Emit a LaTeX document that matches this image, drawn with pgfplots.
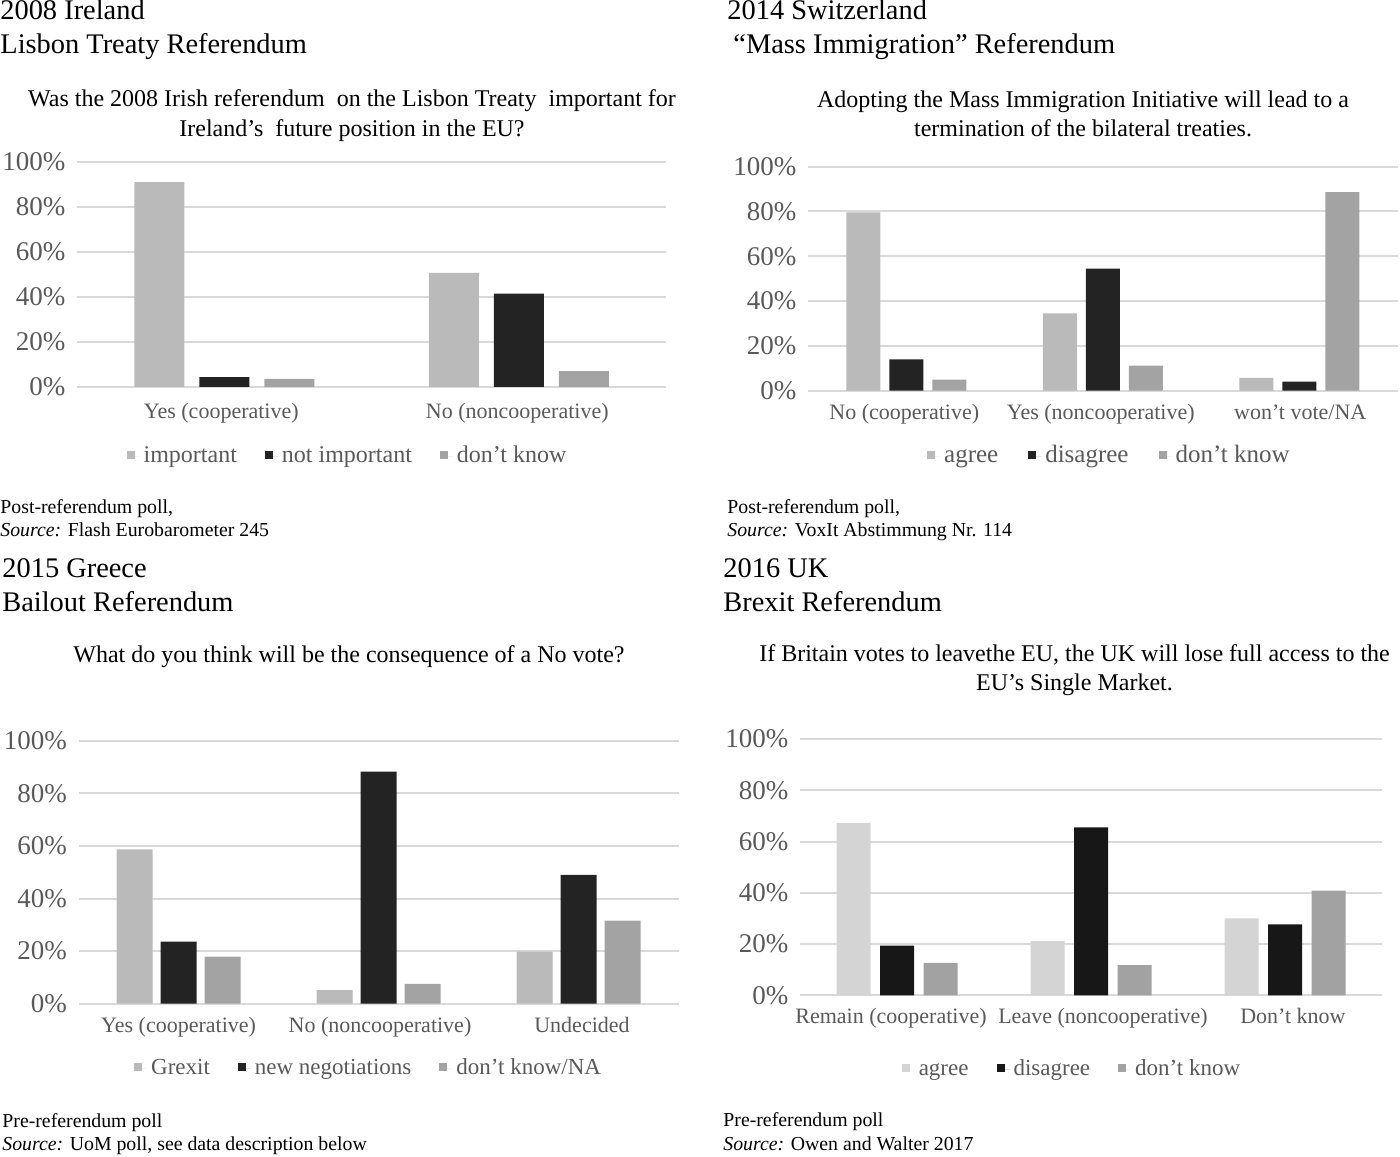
\documentclass[border=0pt]{standalone}
\usepackage{fontspec}
\setmainfont{Liberation Serif}
\usepackage{pgfplots}
\pgfplotsset{compat=1.18}

\definecolor{gridc}{HTML}{D9D9D9}
\definecolor{tickc}{HTML}{595959}
\definecolor{lgt}{HTML}{BABABA}
\definecolor{drk}{HTML}{232323}
\definecolor{mid}{HTML}{A3A3A3}
\definecolor{lgtB}{HTML}{D4D4D4}
\definecolor{drkB}{HTML}{171717}
\definecolor{midB}{HTML}{A2A2A2}

\pgfplotsset{
  sq/.style={legend image code/.code={%
    \fill[##1,draw=none] (0pt,-1.2pt) rectangle (4pt,2.8pt);
    \path (0pt,0pt) -- (6.5pt,0pt);}},
  panel/.style={
    scale only axis, ybar, ymin=0, ymax=100, ytick={0,20,40,60,80,100},
    yticklabel={\pgfmathprintnumber[assume math mode=true]{\tick}\%},
    ymajorgrids, grid style={draw=gridc, line width=1pt},
    axis line style={draw=none}, major tick length=0pt,
    tick label style={text=tickc},
    yticklabel style={font=\fontsize{13.5}{15}\selectfont, xshift=-2.3pt},
    xticklabel style={font=\fontsize{11}{13}\selectfont, anchor=base},
    legend columns=-1,
    legend style={draw=none, fill=none, font=\fontsize{12}{14}\selectfont,
      text=tickc, anchor=center,
      nodes={text height=8.6pt, text depth=2.6pt},
      /tikz/every even column/.append style={column sep=12pt}},
  },
}

\newcommand{\ttl}{\fontsize{14.2}{16}\selectfont}
\newcommand{\qst}{\fontsize{12}{14}\selectfont}
\newcommand{\src}{\fontsize{9.9}{12}\selectfont}

\begin{document}
\begin{tikzpicture}
\useasboundingbox (0,0) rectangle (700pt,578pt);

% ---------- 2008 Ireland ----------
\node[anchor=base west, inner sep=0, font=\ttl] at (0pt,568pt) {2008 Ireland};
\node[anchor=base west, inner sep=0, font=\ttl] at (0pt,551.35pt) {Lisbon Treaty Referendum};
\node[anchor=base, inner sep=0, font=\qst] at (176pt,524.65pt)
  {Was the 2008 Irish referendum\ \ on the Lisbon Treaty\ \ important for};
\node[anchor=base, inner sep=0, font=\qst] at (176pt,509.65pt)
  {Ireland’s\ \ future position in the EU?};

\begin{axis}[panel, at={(38.5pt,384.5pt)}, anchor=south west,
    width=294.5pt, height=112.5pt, bar width=25pt, ybar=7.5pt,
    xmin=-0.5, xmax=1.5, xtick={-0.01,0.995},
    xticklabels={Yes (cooperative), No (noncooperative)},
    xticklabel style={yshift=-16pt},
    legend style={at={(0.461,-0.311)}}]
  \addplot[fill=lgt, draw=none, sq] coordinates {(0,91.1) (1,50.7)};
  \addlegendentry{important}
  \addplot[fill=drk, draw=none, sq] coordinates {(0,4.4) (1,41.5)};
  \addlegendentry{not important}
  \addplot[fill=mid, draw=none, sq] coordinates {(0,3.6) (1,7.1)};
  \addlegendentry{don’t know}
\end{axis}

\node[anchor=base west, inner sep=0, font=\src] at (0pt,321.35pt) {Post-referendum poll,};
\node[anchor=base west, inner sep=0, font=\src] at (0pt,309.65pt) {\textit{Source:} Flash Eurobarometer 245};

% ---------- 2014 Switzerland ----------
\node[anchor=base west, inner sep=0, font=\ttl] at (363.5pt,568pt) {2014 Switzerland};
\node[anchor=base west, inner sep=0, font=\ttl] at (366.5pt,551.35pt) {“Mass Immigration” Referendum};
\node[anchor=base, inner sep=0, font=\qst] at (541.5pt,524pt)
  {Adopting the Mass Immigration Initiative will lead to a};
\node[anchor=base, inner sep=0, font=\qst] at (541.5pt,509.5pt)
  {termination of the bilateral treaties.};

\begin{axis}[panel, at={(404pt,382.65pt)}, anchor=south west,
    width=294.75pt, height=112pt, bar width=17pt, ybar=4.5pt,
    xmin=-0.5, xmax=2.5, xtick={-0.01,0.99,2.005},
    xticklabels={No (cooperative), Yes (noncooperative), won’t vote/NA},
    xticklabel style={yshift=-14.2pt},
    legend style={at={(0.513,-0.296)}, font=\fontsize{12.5}{14}\selectfont,
      /tikz/every even column/.append style={column sep=13pt}}]
  \addplot[fill=lgt, draw=none, sq] coordinates {(0,79.6) (1,34.5) (2,5.7)};
  \addlegendentry{agree}
  \addplot[fill=drk, draw=none, sq] coordinates {(0,14.0) (1,54.5) (2,4.0)};
  \addlegendentry{disagree}
  \addplot[fill=mid, draw=none, sq] coordinates {(0,4.9) (1,11.2) (2,88.6)};
  \addlegendentry{don’t know}
\end{axis}

\node[anchor=base west, inner sep=0, font=\src] at (363.5pt,321.35pt) {Post-referendum poll,};
\node[anchor=base west, inner sep=0, font=\src] at (363.5pt,309.65pt) {\textit{Source:} VoxIt Abstimmung Nr. 114};

% ---------- 2015 Greece ----------
\node[anchor=base west, inner sep=0, font=\ttl] at (1pt,289pt) {2015 Greece};
\node[anchor=base west, inner sep=0, font=\ttl] at (1pt,272.15pt) {Bailout Referendum};
\node[anchor=base, inner sep=0, font=\qst] at (174.5pt,246.5pt)
  {What do you think will be the consequence of a No vote?};

\begin{axis}[panel, at={(39.3pt,76.15pt)}, anchor=south west,
    width=300pt, height=131.5pt, bar width=18pt, ybar=4pt,
    xmin=-0.5, xmax=2.5, xtick={0,1.007,2.017},
    xticklabels={Yes (cooperative), No (noncooperative), Undecided},
    xticklabel style={yshift=-14.2pt},
    legend style={at={(0.485,-0.248)}, font=\fontsize{11.5}{13}\selectfont}]
  \addplot[fill=lgt, draw=none, sq] coordinates {(0,58.7) (1,5.2) (2,19.8)};
  \addlegendentry{Grexit}
  \addplot[fill=drk, draw=none, sq] coordinates {(0,23.6) (1,88.2) (2,49.0)};
  \addlegendentry{new negotiations}
  \addplot[fill=mid, draw=none, sq] coordinates {(0,17.9) (1,7.5) (2,31.6)};
  \addlegendentry{don’t know/NA}
\end{axis}

\node[anchor=base west, inner sep=0, font=\src] at (1pt,14.5pt) {Pre-referendum poll};
\node[anchor=base west, inner sep=0, font=\src] at (1pt,3pt) {\textit{Source:} UoM poll, see data description below};

% ---------- 2016 UK ----------
\node[anchor=base west, inner sep=0, font=\ttl] at (361.5pt,289pt) {2016 UK};
\node[anchor=base west, inner sep=0, font=\ttl] at (361.5pt,272.15pt) {Brexit Referendum};
\node[anchor=base, inner sep=0, font=\qst] at (537.25pt,247pt)
  {If Britain votes to leavethe EU, the UK will lose full access to the};
\node[anchor=base, inner sep=0, font=\qst] at (537.25pt,232.5pt)
  {EU’s Single Market.};

\begin{axis}[panel, at={(400pt,80.35pt)}, anchor=south west,
    width=291pt, height=128.15pt, bar width=17pt, ybar=4.75pt,
    xmin=-0.5, xmax=2.5, xtick={-0.031,1.062,2.041},
    xticklabels={Remain (cooperative), Leave (noncooperative), Don’t know},
    xticklabel style={yshift=-14pt},
    legend style={at={(0.469,-0.288)}, font=\fontsize{11.5}{13}\selectfont}]
  \addplot[fill=lgtB, draw=none, sq] coordinates {(0,67.2) (1,21.1) (2,30.0)};
  \addlegendentry{agree}
  \addplot[fill=drkB, draw=none, sq] coordinates {(0,19.4) (1,65.5) (2,27.7)};
  \addlegendentry{disagree}
  \addplot[fill=midB, draw=none, sq] coordinates {(0,12.7) (1,11.8) (2,40.8)};
  \addlegendentry{don’t know}
\end{axis}

\node[anchor=base west, inner sep=0, font=\src] at (361.5pt,14.65pt) {Pre-referendum poll};
\node[anchor=base west, inner sep=0, font=\src] at (361.5pt,3pt) {\textit{Source:} Owen and Walter 2017};

\end{tikzpicture}
\end{document}
